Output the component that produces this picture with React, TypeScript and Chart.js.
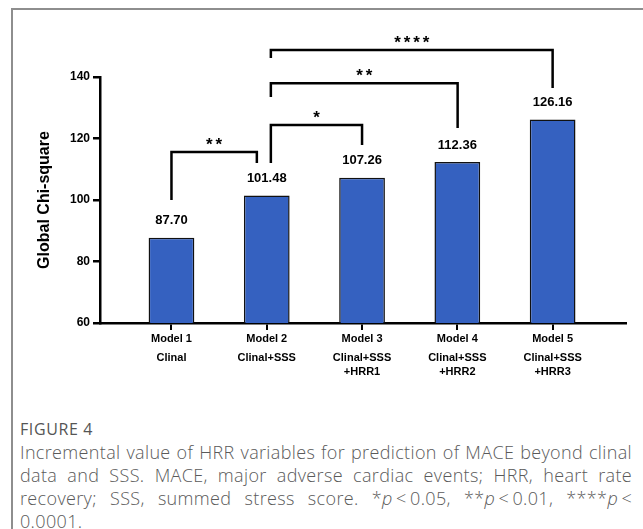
import React, { useEffect, useRef } from "react";
import { Chart, registerables } from "chart.js";

Chart.register(...registerables);

const modelLabels = ["Model 1", "Model 2", "Model 3", "Model 4", "Model 5"];
const subLabels = [
  ["Clinal"],
  ["Clinal+SSS"],
  ["Clinal+SSS", "+HRR1"],
  ["Clinal+SSS", "+HRR2"],
  ["Clinal+SSS", "+HRR3"],
];
const chiSquare = [87.7, 101.48, 107.26, 112.36, 126.16];
const yTicks = [60, 80, 100, 120, 140];

// significance brackets: [xFrom, xTo] in model positions, [leftFoot, top, rightFoot] in chi-square units
const bracketFrom = [1.0, 2.043, 2.043, 2.043];
const bracketTo = [1.896, 3.0, 4.003, 5.0];
const bracketLeftFoot = [100.0, 112.0, 133.5, 146.2];
const bracketTop = [115.6, 124.4, 138.0, 148.8];
const bracketRightFoot = [112.0, 117.9, 123.4, 136.4];
const bracketStars = ["**", "*", "**", "****"];

const FONT = "'Liberation Sans', Arial, Helvetica, sans-serif";

const annotationPlugin = {
  id: "annotations",
  afterDatasetsDraw(chart: any) {
    const ctx = chart.ctx;
    const xs = chart.scales.x;
    const ys = chart.scales.y;
    const meta = chart.getDatasetMeta(0);
    ctx.save();
    ctx.fillStyle = "#000";
    ctx.font = `bold 13px ${FONT}`;
    ctx.textAlign = "center";
    ctx.textBaseline = "middle";
    meta.data.forEach((bar: any, i: number) => {
      ctx.fillText(chiSquare[i].toFixed(2), bar.x, bar.y - 17);
    });
    ctx.strokeStyle = "#000";
    ctx.lineWidth = 2.5;
    ctx.lineJoin = "miter";
    ctx.lineCap = "butt";
    for (let i = 0; i < bracketFrom.length; i++) {
      const xl = xs.getPixelForValue(bracketFrom[i]);
      const xr = xs.getPixelForValue(bracketTo[i]);
      const yl = ys.getPixelForValue(bracketLeftFoot[i]);
      const yt = ys.getPixelForValue(bracketTop[i]);
      const yr = ys.getPixelForValue(bracketRightFoot[i]);
      ctx.beginPath();
      ctx.moveTo(xl, yl);
      ctx.lineTo(xl, yt);
      ctx.lineTo(xr, yt);
      ctx.lineTo(xr, yr);
      ctx.stroke();
      const stars = bracketStars[i];
      const cx = (xl + xr) / 2;
      ctx.font = `bold 17px ${FONT}`;
      ctx.textBaseline = "alphabetic";
      const n = stars.length;
      for (let k = 0; k < n; k++) {
        ctx.fillText("*", cx + (k - (n - 1) / 2) * 9.5, yt - 2);
      }
    }
    ctx.restore();
  },
};

const positions = () => chiSquare.map((_, i) => ({ value: i + 1 }));

export default function App() {
  const ref = useRef<HTMLCanvasElement | null>(null);
  useEffect(() => {
    if (!ref.current) return;
    const chart = new Chart(ref.current, {
      type: "bar",
      data: {
        datasets: [
          {
            data: chiSquare.map((v, i) => ({ x: i + 1, y: v })),
            backgroundColor: "#3561c0",
            borderColor: "#111",
            borderWidth: 1.5,
            barPercentage: 0.48,
            categoryPercentage: 1,
          },
        ],
      },
      options: {
        animation: false,
        responsive: false,
        maintainAspectRatio: false,
        layout: { padding: { left: 0, top: 77, right: 17, bottom: 17 } },
        plugins: { legend: { display: false }, tooltip: { enabled: false } },
        scales: {
          x: {
            type: "linear",
            position: "bottom",
            weight: 0,
            min: 0.25,
            max: 5.77,
            offset: false,
            afterBuildTicks: (s: any) => {
              s.ticks = positions();
            },
            afterFit: (s: any) => {
              s.height = 20;
            },
            ticks: {
              autoSkip: false,
              maxRotation: 0,
              padding: 2,
              color: "#000",
              font: { family: FONT, size: 11, weight: "bold" },
              callback: (v: any) => modelLabels[Math.round(v) - 1] ?? "",
            },
            grid: {
              offset: false,
              drawOnChartArea: false,
              drawTicks: true,
              tickLength: 7,
              color: "#000",
              lineWidth: 2,
            },
            border: { display: true, color: "#000", width: 2.5 },
          },
          x2: {
            type: "linear",
            position: "bottom",
            weight: 1,
            min: 0.25,
            max: 5.77,
            offset: false,
            afterBuildTicks: (s: any) => {
              s.ticks = positions();
            },
            afterFit: (s: any) => {
              s.height = 40;
            },
            ticks: {
              autoSkip: false,
              maxRotation: 0,
              padding: 8,
              color: "#000",
              font: { family: FONT, size: 11, weight: "bold", lineHeight: "14px" },
              callback: (v: any) => subLabels[Math.round(v) - 1] ?? "",
            },
            grid: { display: false, drawTicks: false },
            border: { display: false },
          },
          y: {
            min: yTicks[0],
            max: yTicks[yTicks.length - 1],
            afterBuildTicks: (s: any) => {
              s.ticks = yTicks.map((v) => ({ value: v }));
            },
            afterFit: (s: any) => {
              s.width = 100;
            },
            ticks: {
              padding: 3,
              color: "#000",
              font: { family: FONT, size: 12, weight: "bold" },
            },
            grid: {
              drawOnChartArea: false,
              drawTicks: true,
              tickLength: 7,
              color: "#000",
              lineWidth: 2.5,
            },
            border: { display: true, color: "#000", width: 2.5 },
            title: {
              display: true,
              text: "Global Chi-square",
              color: "#000",
              font: { family: FONT, size: 16, weight: "bold" },
              padding: { top: 35, bottom: 0 },
            },
          },
        },
      } as any,
      plugins: [annotationPlugin],
    });
    return () => chart.destroy();
  }, []);

  const captionFont = "'Open Sans', 'Noto Sans', sans-serif";
  const lineStyle: React.CSSProperties = {
    textAlign: "justify",
    textAlignLast: "justify",
    height: 23,
    lineHeight: "23px",
  };
  const ts = "\u2009";
  return (
    <div
      style={{
        position: "fixed",
        left: 0,
        top: 0,
        width: 643,
        height: 529,
        background: "#fff",
        overflow: "hidden",
      }}
    >
      <div
        style={{
          position: "absolute",
          left: 11,
          top: 8,
          width: 700,
          height: 600,
          borderTop: "2px solid #8e8e8e",
          borderLeft: "2px solid #8e8e8e",
        }}
      />
      <canvas
        ref={ref}
        width={643}
        height={400}
        style={{ position: "absolute", left: 0, top: 0, width: 643, height: 400 }}
      />
      <div
        style={{
          position: "absolute",
          left: 20,
          top: 418,
          width: 612,
          fontFamily: captionFont,
          color: "#5a5a5a",
        }}
      >
        <div
          style={{
            fontSize: 16,
            lineHeight: "23px",
            height: 23,
            fontWeight: 400,
            letterSpacing: "0.6px",
            color: "#555",
          }}
        >
          FIGURE 4
        </div>
        <div style={{ fontSize: 18, fontWeight: 300, letterSpacing: "0.35px" }}>
          <div style={lineStyle}>
            Incremental value of HRR variables for prediction of MACE beyond clinal
          </div>
          <div style={lineStyle}>
            data and SSS. MACE, major adverse cardiac events; HRR, heart rate
          </div>
          <div style={lineStyle}>
            recovery; SSS, summed stress score. *<i>p</i>{ts}&lt;{ts}0.05, **<i>p</i>{ts}&lt;{ts}0.01, ****<i>p</i>{ts}&lt;
          </div>
          <div style={{ height: 23, lineHeight: "23px" }}>0.0001.</div>
        </div>
      </div>
    </div>
  );
}
